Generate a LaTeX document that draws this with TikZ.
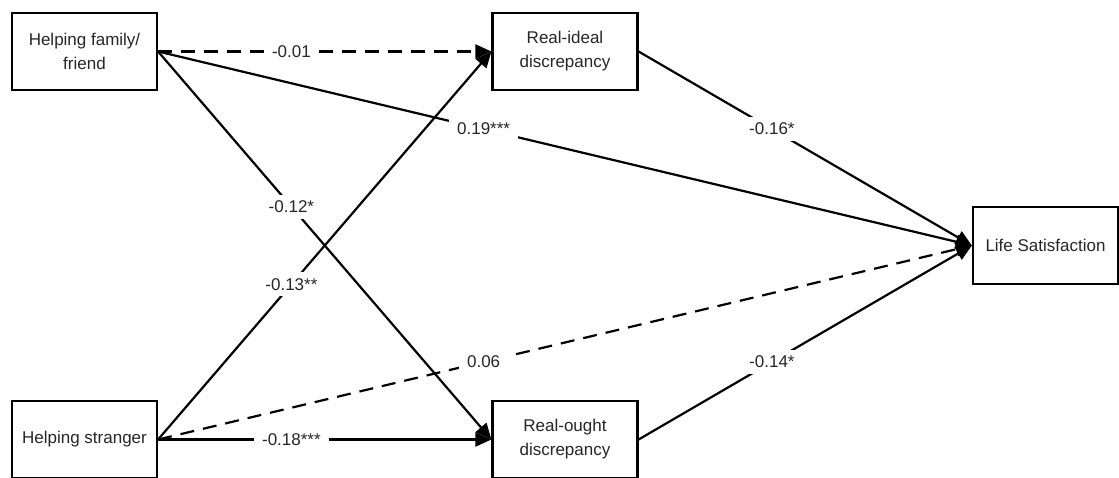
\documentclass[tikz,border=0pt]{standalone}
\usepackage{fontspec}
\setmainfont{Liberation Sans}
\usetikzlibrary{arrows.meta}
\begin{document}
\begin{tikzpicture}[x=1pt,y=-1pt,
  box/.style={draw, line width=2.2pt, minimum width=145pt, minimum height=77pt, inner sep=0pt, align=center, font=\fontsize{17}{24}\selectfont, text=black!85},
  conn/.style={line width=2.2pt, -{Triangle[length=16pt,width=14pt]}},
  dsh/.style={conn, dash pattern=on 14pt off 9pt},
  lbl/.style={fill=white, inner xsep=8pt, inner ysep=6pt, font=\fontsize{17}{20}\selectfont, text=black!85, pos=0.4}]
\useasboundingbox (0,0) rectangle (1119,477);
\node[box] (hf) at (84.5,51.5) {Helping family/\\friend};
\node[box] (ri) at (565,51.5) {Real-ideal\\discrepancy};
\node[box] (ls) at (1045.5,245.5) {Life Satisfaction};
\node[box] (hs) at (84.5,439.5) {Helping stranger};
\node[box] (ro) at (565,439.5) {Real-ought\\discrepancy};
\draw[dsh] (hf.east) -- node[lbl] {-0.01} (ri.west);
\draw[conn] (hf.east) -- node[lbl] {0.19***} (ls.west);
\draw[conn] (hf.east) -- node[lbl] {-0.12*} (ro.west);
\draw[conn] (hs.east) -- node[lbl] {-0.13**} (ri.west);
\draw[dsh] (hs.east) -- node[lbl] {0.06} (ls.west);
\draw[conn] (hs.east) -- node[lbl] {-0.18***} (ro.west);
\draw[conn] (ri.east) -- node[lbl] {-0.16*} (ls.west);
\draw[conn] (ro.east) -- node[lbl] {-0.14*} (ls.west);
\end{tikzpicture}
\end{document}
